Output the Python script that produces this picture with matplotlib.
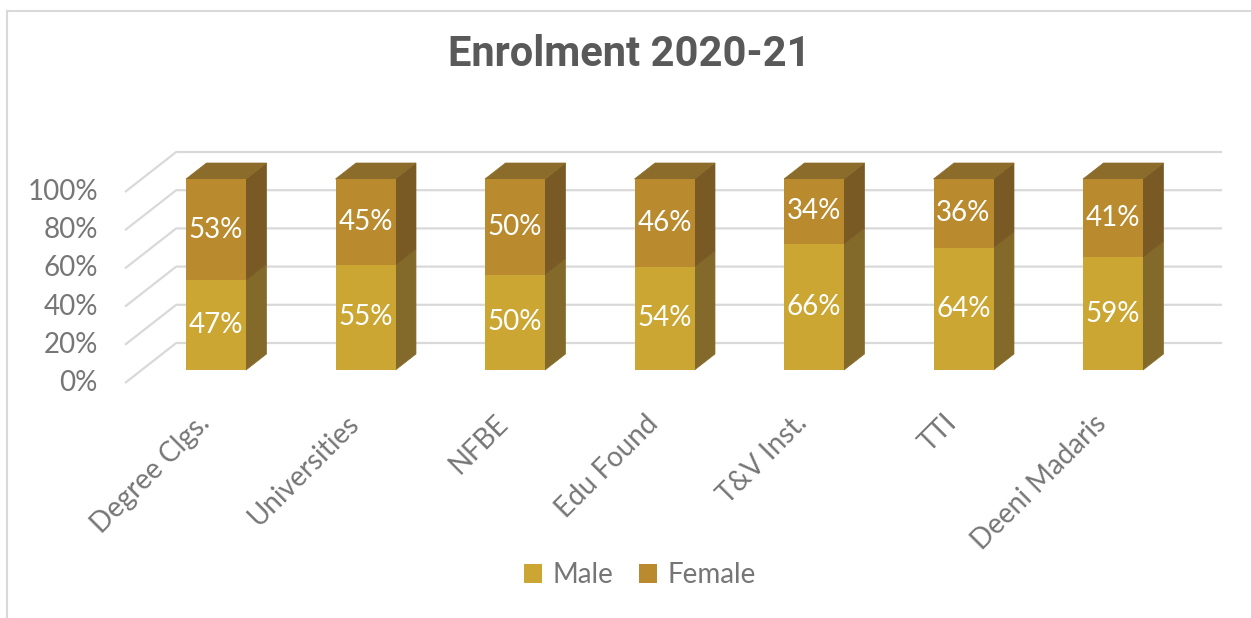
#!/usr/bin/env python3
"""
Enrolment 2020-21: 100% stacked bars (male / female) drawn with a
simple Excel-like 3D look (front face, side face, top face).
"""

import matplotlib

matplotlib.use("Agg")

import matplotlib.pyplot as plt
from matplotlib.lines import Line2D
from matplotlib.patches import Polygon


CATEGORIES = [
    "Degree Clgs.",
    "Universities",
    "NFBE",
    "Edu Found",
    "T&V Inst.",
    "TTI",
    "Deeni Madaris",
]

MALE = [47, 55, 50, 54, 66, 64, 59]
FEMALE = [53, 45, 50, 46, 34, 36, 41]

Y_TICKS = [0, 20, 40, 60, 80, 100]
Y_TICK_LABELS = ["0%", "20%", "40%", "60%", "80%", "100%"]

TITLE = "Enrolment 2020-21"
SERIES_NAMES = ["Male", "Female"]

# colours
MALE_FRONT = "#CBA632"
MALE_SIDE = "#846A2A"
FEMALE_FRONT = "#B98B2E"
FEMALE_SIDE = "#795A24"
TOP_FACE = "#8B6C2B"
GRID_COLOR = "#D9D9D9"
TEXT_GRAY = "#767676"
TITLE_COLOR = "#595959"

FONT = "Lato"
LABEL_SIZE = 20

# pixel layout of the picture (1251 x 618)
FIG_W, FIG_H = 1251, 618
X0_PX = 216          # centre of first bar
Y0_PX = 370          # bar bottom (0 %)
PX_PER_CAT = 149.5
PX_PER_PCT = 1.91
BAR_PX = 60
BAR_DEPTH_PX = 16
WALL_FRONT_PX = -13
WALL_BACK_PX = 27
WALL_LEFT_PX = 125
WALL_RIGHT_PX = 1222
DEPTH_RATIO = 1.28


def px_to_data(px, py):
    return (px - X0_PX) / PX_PER_CAT, (Y0_PX - py) / PX_PER_PCT


def depth_offset(d):
    return d * DEPTH_RATIO / PX_PER_CAT, d / PX_PER_PCT


def draw_walls(ax):
    wall_left, _ = px_to_data(WALL_LEFT_PX, Y0_PX)
    wall_right, _ = px_to_data(WALL_RIGHT_PX, Y0_PX)
    fdx, fdy = depth_offset(WALL_FRONT_PX)
    bdx, bdy = depth_offset(WALL_BACK_PX)
    span = bdx - fdx

    for tick, label in zip(Y_TICKS, Y_TICK_LABELS):
        ax.plot(
            [wall_left, wall_left + span, wall_right],
            [tick + fdy, tick + bdy, tick + bdy],
            color=GRID_COLOR,
            linewidth=1.6,
            zorder=1,
            solid_capstyle="butt",
        )
        ax.text(
            wall_left - 27 / PX_PER_CAT,
            tick + fdy,
            label,
            ha="right",
            va="center",
            fontsize=LABEL_SIZE,
            color=TEXT_GRAY,
            family=FONT,
        )


def draw_bars(ax):
    width = BAR_PX / PX_PER_CAT
    dx, dy = depth_offset(BAR_DEPTH_PX)
    positions = list(range(len(CATEGORIES)))

    male_bars = ax.bar(
        positions, MALE, width=width, color=MALE_FRONT, zorder=3,
        label=SERIES_NAMES[0],
    )
    female_bars = ax.bar(
        positions, FEMALE, width=width, bottom=MALE, color=FEMALE_FRONT,
        zorder=3, label=SERIES_NAMES[1],
    )

    for i, (m, f) in enumerate(zip(MALE, FEMALE)):
        right = i + width / 2
        left = i - width / 2
        top = m + f

        for y0, y1, color in [(0, m, MALE_SIDE), (m, top, FEMALE_SIDE)]:
            ax.add_patch(Polygon(
                [(right, y0), (right + dx, y0 + dy),
                 (right + dx, y1 + dy), (right, y1)],
                closed=True, facecolor=color, edgecolor=color,
                linewidth=0.5, zorder=2,
            ))

        ax.add_patch(Polygon(
            [(left, top), (right, top), (right + dx, top + dy),
             (left + dx, top + dy)],
            closed=True, facecolor=TOP_FACE, edgecolor=TOP_FACE,
            linewidth=0.5, zorder=2,
        ))

        ax.text(i, m / 2, f"{m}%", ha="center", va="center",
                fontsize=LABEL_SIZE, color="white", family=FONT, zorder=4)
        ax.text(i, m + f / 2, f"{f}%", ha="center", va="center",
                fontsize=LABEL_SIZE, color="white", family=FONT, zorder=4)

    return male_bars, female_bars


def draw_category_labels(ax):
    _, label_y = px_to_data(0, 410)
    shift = 20 / PX_PER_CAT
    for i, name in enumerate(CATEGORIES):
        ax.text(
            i - shift,
            label_y,
            name,
            rotation=45,
            rotation_mode="anchor",
            ha="right",
            va="top",
            fontsize=LABEL_SIZE,
            color=TEXT_GRAY,
            family=FONT,
        )


def main():
    fig = plt.figure(figsize=(FIG_W / 100, FIG_H / 100), dpi=100)
    ax = fig.add_axes([0, 0, 1, 1])

    x_lo, y_hi = px_to_data(0, 0)
    x_hi, y_lo = px_to_data(FIG_W, FIG_H)
    ax.set_xlim(x_lo, x_hi)
    ax.set_ylim(y_lo, y_hi)
    ax.axis("off")

    draw_walls(ax)
    male_bars, female_bars = draw_bars(ax)
    draw_category_labels(ax)

    fig.text(
        629 / FIG_W,
        1 - 55 / FIG_H,
        TITLE,
        ha="center",
        va="center",
        fontsize=30,
        fontweight="bold",
        color=TITLE_COLOR,
        family="Roboto",
    )

    ax.legend(
        [male_bars, female_bars],
        SERIES_NAMES,
        loc="center",
        bbox_to_anchor=(640 / FIG_W, 1 - 575 / FIG_H),
        bbox_transform=fig.transFigure,
        ncol=2,
        frameon=False,
        handlelength=0.65,
        handleheight=0.65,
        handletextpad=0.4,
        columnspacing=0.9,
        prop={"family": FONT, "size": LABEL_SIZE},
        labelcolor=TEXT_GRAY,
    )

    # light chart-area border (top and left edges visible)
    fig.add_artist(Line2D([7 / FIG_W, 1], [1 - 11 / FIG_H, 1 - 11 / FIG_H],
                          color=GRID_COLOR, linewidth=1.5))
    fig.add_artist(Line2D([7 / FIG_W, 7 / FIG_W], [0, 1 - 11 / FIG_H],
                          color=GRID_COLOR, linewidth=1.5))

    fig.savefig("out.png", dpi=100)
    plt.close(fig)


if __name__ == "__main__":
    main()
